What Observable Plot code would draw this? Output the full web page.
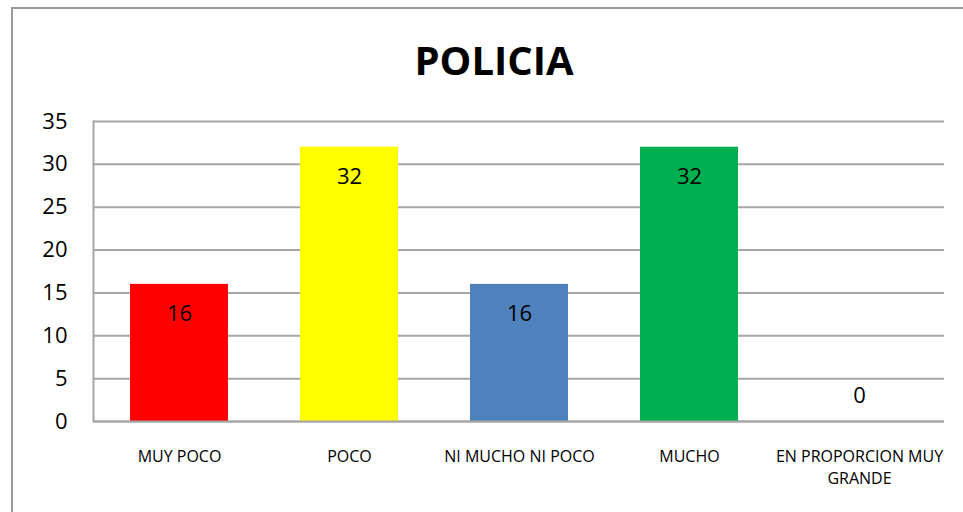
<!DOCTYPE html>
<html>
<head>
<meta charset="utf-8">
<script src="https://cdn.jsdelivr.net/npm/d3@7"></script>
<script src="https://cdn.jsdelivr.net/npm/@observablehq/plot@0.6"></script>
<style>
  html, body { margin: 0; padding: 0; background: #fff; overflow: hidden; }
  #wrap { position: relative; width: 963px; height: 512px; }
  #frame { position: absolute; left: 11px; top: 7px; width: 980px; height: 540px; border: 2px solid #999; box-sizing: border-box; }
  #title { position: absolute; left: 0; width: 988px; top: 33px; text-align: center; font: bold 40px "Open Sans", sans-serif; color: #000; line-height: 54px; }
  #chart { position: absolute; left: 0; top: 0; }
</style>
</head>
<body>
<div id="wrap">
  <div id="frame"></div>
  <div id="title">POLICIA</div>
  <div id="chart"></div>
</div>
<script>
const categories = ["MUY POCO", "POCO", "NI MUCHO NI POCO", "MUCHO", "EN PROPORCION MUY GRANDE"];
const values = [16, 32, 16, 32, 0];
const colors = ["#FF0000", "#FFFF00", "#4F81BD", "#00B050", "#7F7F7F"];
const yTicks = [0, 5, 10, 15, 20, 25, 30, 35];
const wrappedLabels = {"EN PROPORCION MUY GRANDE": "EN PROPORCION MUY\nGRANDE"};

const data = categories.map((c, i) => ({category: c, value: values[i], color: colors[i]}));

const chart = Plot.plot({
  width: 963,
  height: 512,
  marginLeft: 93,
  marginRight: 19,
  marginTop: 121,
  marginBottom: 91,
  style: {fontFamily: "'Open Sans', sans-serif", background: "transparent"},
  x: {domain: categories, paddingInner: 0.424, paddingOuter: 0.212},
  y: {domain: [0, 35]},
  marks: [
    Plot.gridY(yTicks, {stroke: "#a6a6a6", strokeOpacity: 1, strokeWidth: 2}),
    Plot.frame({anchor: "left", stroke: "#a6a6a6", strokeWidth: 2}),
    Plot.barY(data, {x: "category", y: "value", fill: "color"}),
    Plot.ruleY([0], {stroke: "#a6a6a6", strokeWidth: 2}),
    Plot.axisY(yTicks, {tickSize: 0, tickPadding: 26, fontSize: 22, fill: "#000", label: null}),
    Plot.axisX({tickSize: 0, tickPadding: 25, fontSize: 16, fill: "#000", label: null, lineHeight: 1.375,
      tickFormat: d => wrappedLabels[d] ?? d}),
    Plot.text(data.filter(d => d.value > 0), {x: "category", y: "value", text: d => String(d.value), dy: 30, fontSize: 22, fill: "#000"}),
    Plot.text(data.filter(d => d.value === 0), {x: "category", y: "value", text: d => String(d.value), dy: -26, fontSize: 22, fill: "#000"})
  ]
});
document.getElementById("chart").appendChild(chart);
</script>
</body>
</html>
